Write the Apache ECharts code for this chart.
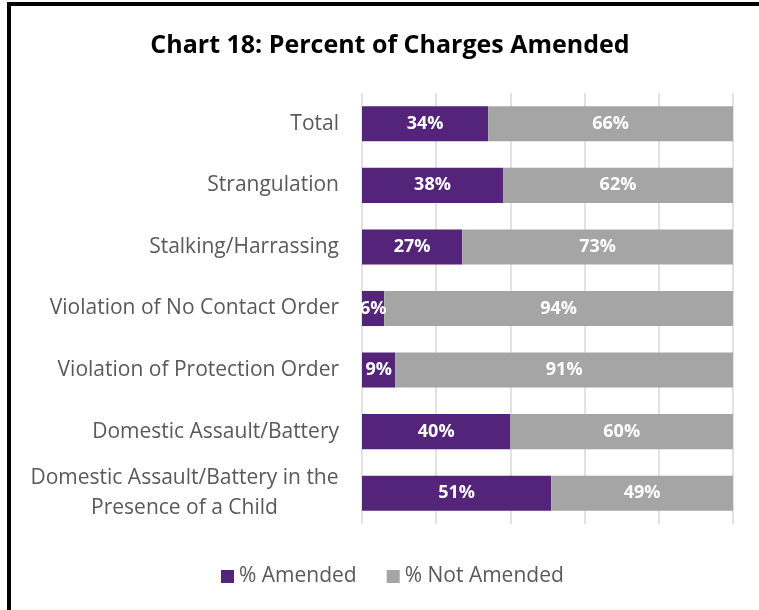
<!DOCTYPE html>
<html lang="en">
<head>
    <meta charset="UTF-8">
    <title>Chart 18</title>
    <script src="https://cdn.jsdelivr.net/npm/echarts@6/dist/echarts.min.js"></script>
    <style>
        html, body { margin: 0; padding: 0; background: #fff; }
        .demo { width: 759px; height: 610px; }
    </style>
</head>
<body>
    <div class="demo"></div>
    <script>
        var categories = ['Total', 'Strangulation', 'Stalking/Harrassing', 'Violation of No Contact Order',
            'Violation of Protection Order', 'Domestic Assault/Battery',
            'Domestic Assault/Battery in the\nPresence of a Child']
        var amended = [34, 38, 27, 6, 9, 40, 51]
        var notAmended = [66, 62, 73, 94, 91, 60, 49]
        var xTicks = [0, 20, 40, 60, 80, 100]

        var chart = echarts.init(document.querySelector('.demo'))
        var font = '"Open Sans", sans-serif'

        var barLabel = {
            show: true,
            position: 'inside',
            color: '#fff',
            fontWeight: 'bold',
            fontSize: 18,
            fontFamily: font,
            formatter: function (p) { return p.value + '%' }
        }

        var option = {
            animation: false,
            title: {
                text: 'Chart 18: Percent of Charges Amended',
                left: 385,
                textAlign: 'center',
                top: 28,
                textStyle: { fontFamily: font, fontWeight: 'bold', fontSize: 25, color: '#000' }
            },
            legend: {
                bottom: 18,
                left: 216,
                itemWidth: 13,
                itemHeight: 13,
                itemGap: 30,
                icon: 'rect',
                textStyle: { fontFamily: font, fontSize: 21, color: '#595959' },
                data: ['% Amended', '% Not Amended']
            },
            graphic: [{
                type: 'rect',
                shape: { x: 9, y: 4, width: 800, height: 700 },
                style: { fill: 'none', stroke: '#000', lineWidth: 4 }
            }],
            grid: { left: 362, right: 26, top: 93, bottom: 86 },
            xAxis: {
                type: 'value',
                min: xTicks[0],
                max: xTicks[xTicks.length - 1],
                interval: 20,
                axisLabel: { show: false },
                axisLine: { show: false },
                axisTick: { show: false },
                splitLine: { show: true, lineStyle: { color: '#d9d9d9', width: 1.5 } }
            },
            yAxis: {
                type: 'category',
                inverse: true,
                data: categories,
                axisLine: { show: false },
                axisTick: { show: false },
                axisLabel: {
                    margin: 23,
                    fontFamily: font,
                    fontSize: 21,
                    color: '#595959',
                    lineHeight: 30,
                    formatter: function (v) {
                        return v.indexOf('\n') >= 0 ? '{c|' + v + '}' : v
                    },
                    rich: {
                        c: { width: 309, align: 'center', fontFamily: font, fontSize: 21, color: '#595959', lineHeight: 30 }
                    }
                }
            },
            series: [{
                name: '% Amended',
                type: 'bar',
                stack: 'all',
                barWidth: '57%',
                itemStyle: { color: '#54237a' },
                label: barLabel,
                data: amended
            }, {
                name: '% Not Amended',
                type: 'bar',
                stack: 'all',
                barWidth: '57%',
                itemStyle: { color: '#a5a5a5' },
                label: barLabel,
                data: notAmended
            }]
        }

        chart.setOption(option)
    </script>
</body>
</html>
